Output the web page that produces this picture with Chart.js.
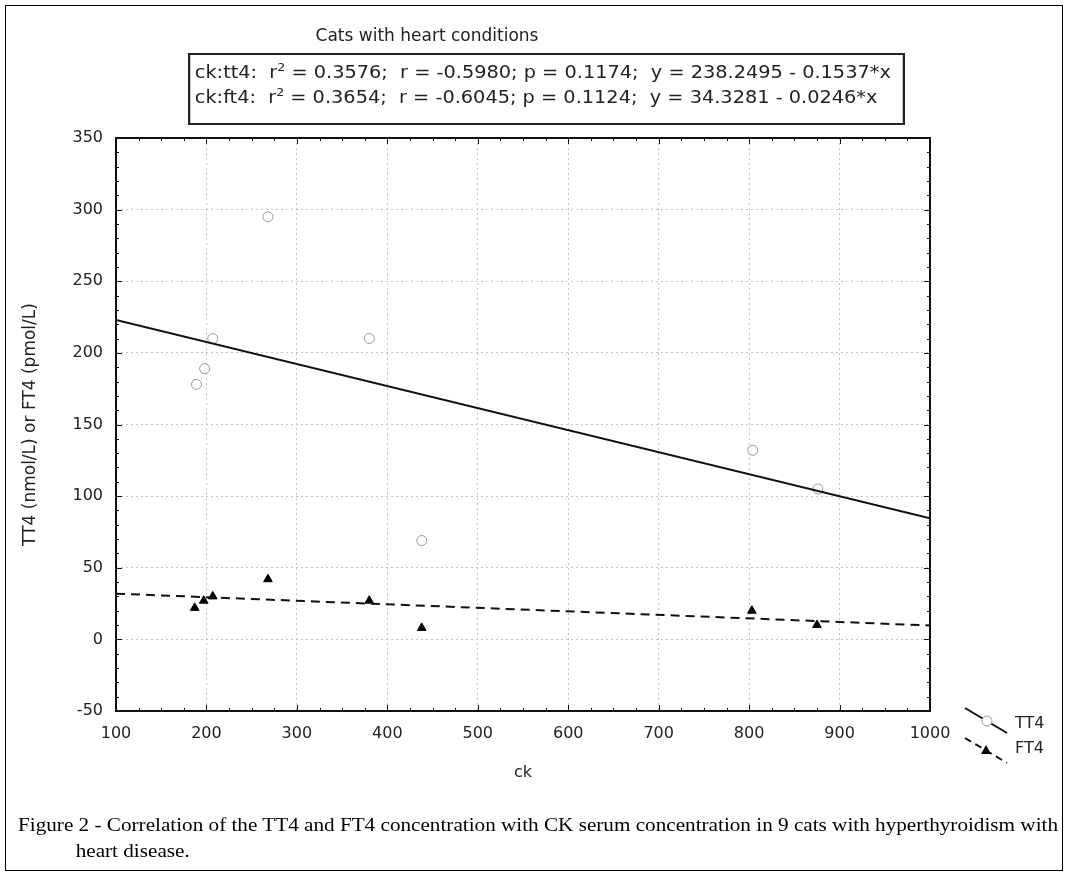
<!DOCTYPE html>
<html>
<head>
<meta charset="utf-8">
<script src="https://cdn.jsdelivr.net/npm/chart.js@4/dist/chart.umd.min.js"></script>
<style>
  html, body { margin: 0; padding: 0; background: #fff; }
  #wrap { position: relative; width: 1069px; height: 877px; overflow: hidden; }
  #frame { position: absolute; left: 5px; top: 5px; width: 1058px; height: 866px; border: 1px solid #000; box-sizing: border-box; }
  canvas { position: absolute; left: 0; top: 0; }
  .sans { font-family: "DejaVu Sans", sans-serif; color: #222; }
  #title { position: absolute; left: 227px; width: 400px; top: 25px; text-align: center; font-size: 17px; }
  #stats { position: absolute; left: 188px; top: 53px; border: 2px solid #222; padding: 5px 10px 13px 4px; font-size: 17px; line-height: 25px; white-space: pre; transform-origin: 0 0; }
  #stats sup { font-size: 11px; line-height: 0; }
  .leg { position: absolute; left: 1015px; font-size: 16px; }
  #caption { position: absolute; left: 18px; top: 812px; font-family: "Liberation Serif", "Times New Roman", serif; font-size: 18px; line-height: 26px; color: #000; white-space: nowrap; transform-origin: 0 0; }
</style>
</head>
<body>
<div id="wrap">
  <canvas id="chart" width="1069" height="877"></canvas>
  <div id="frame"></div>
  <div id="title" class="sans">Cats with heart conditions</div>
  <div id="stats" class="sans">ck:tt4:  r<sup>2</sup> = 0.3576;  r = -0.5980; p = 0.1174;  y = 238.2495 - 0.1537*x
ck:ft4:  r<sup>2</sup> = 0.3654;  r = -0.6045; p = 0.1124;  y = 34.3281 - 0.0246*x</div>
  <div class="leg sans" style="top:713px">TT4</div>
  <div class="leg sans" style="top:738px">FT4</div>
  <div id="caption">Figure 2 - Correlation of the TT4 and FT4 concentration with CK serum concentration in 9 cats with hyperthyroidism with<br><span style="padding-left:49px">heart disease.</span></div>
</div>
<script>
// valores
const ckTT4 = [189, 198, 207, 268, 380, 438, 804, 876];
const tt4   = [178, 189, 210, 295, 210, 69, 132, 105];
const ckFT4 = [187, 197, 207, 268, 380, 438, 803, 875];
const ft4   = [22, 27, 30, 42, 27, 8, 20, 10];

// rectas de regresión (extremos a ck = 100 y ck = 1000)
const fitCk  = [100, 1000];
const tt4Fit = [222.9, 84.6];
const ft4Fit = [31.9, 9.7];

const toPts = (xs, ys) => xs.map((x, i) => ({ x: x, y: ys[i] }));

const CHART_LEFT = 116, CHART_TOP = 138, CHART_RIGHT = 930, CHART_BOTTOM = 711;
const W = 1069, H = 877;

// textos estirados en horizontal como en la imagen original
const cap = document.getElementById('caption');
cap.style.transform = 'scaleX(' + (1040 / cap.offsetWidth) + ')';
const stats = document.getElementById('stats');
stats.style.transform = 'scaleX(' + (717 / stats.offsetWidth) + ')';

// marco completo + marcas hacia dentro + leyenda dibujada a mano
const framePlugin = {
    id: 'framePlugin',
    afterDraw(chart) {
        const ctx = chart.ctx;
        const a = chart.chartArea;
        const xs = chart.scales.x, ys = chart.scales.y;
        ctx.save();
        ctx.strokeStyle = '#111';
        ctx.lineWidth = 1;
        xs.ticks.forEach(t => {
            const px = Math.round(xs.getPixelForValue(t.value)) + 0.5;
            const len = t.value % 100 === 0 ? 6 : 3;
            ctx.beginPath();
            ctx.moveTo(px, a.bottom); ctx.lineTo(px, a.bottom - len);
            ctx.moveTo(px, a.top); ctx.lineTo(px, a.top + len);
            ctx.stroke();
        });
        ys.ticks.forEach(t => {
            const py = Math.round(ys.getPixelForValue(t.value)) + 0.5;
            const len = t.value % 50 === 0 ? 6 : 3;
            ctx.beginPath();
            ctx.moveTo(a.left, py); ctx.lineTo(a.left + len, py);
            ctx.moveTo(a.right, py); ctx.lineTo(a.right - len, py);
            ctx.stroke();
        });
        ctx.lineWidth = 2;
        ctx.strokeRect(a.left, a.top, a.right - a.left, a.bottom - a.top);

        // leyenda
        ctx.lineWidth = 2;
        ctx.strokeStyle = '#111';
        ctx.beginPath(); ctx.moveTo(965, 708); ctx.lineTo(1007, 733); ctx.stroke();
        ctx.setLineDash([7, 5]);
        ctx.beginPath(); ctx.moveTo(965, 738); ctx.lineTo(1007, 763); ctx.stroke();
        ctx.setLineDash([]);
        ctx.fillStyle = '#fff';
        ctx.strokeStyle = '#999';
        ctx.lineWidth = 1;
        ctx.beginPath(); ctx.arc(987, 721, 5, 0, Math.PI * 2); ctx.fill(); ctx.stroke();
        ctx.fillStyle = '#000';
        ctx.beginPath(); ctx.moveTo(986, 745); ctx.lineTo(991, 754); ctx.lineTo(981, 754); ctx.closePath(); ctx.fill();
        ctx.restore();
    }
};

const tickFont = { family: "'DejaVu Sans', sans-serif", size: 16 };

new Chart(document.getElementById('chart'), {
    type: 'scatter',
    data: {
        datasets: [
            {
                label: 'TT4 fit',
                type: 'line',
                data: toPts(fitCk, tt4Fit),
                borderColor: '#111',
                borderWidth: 2,
                pointRadius: 0,
                fill: false
            },
            {
                label: 'FT4 fit',
                type: 'line',
                data: toPts(fitCk, ft4Fit),
                borderColor: '#111',
                borderWidth: 2,
                borderDash: [9, 6],
                pointRadius: 0,
                fill: false
            },
            {
                label: 'TT4',
                data: toPts(ckTT4, tt4),
                pointStyle: 'circle',
                pointRadius: 5,
                pointBackgroundColor: '#fff',
                pointBorderColor: '#999',
                pointBorderWidth: 1
            },
            {
                label: 'FT4',
                data: toPts(ckFT4, ft4),
                pointStyle: 'triangle',
                pointRadius: 5,
                pointBackgroundColor: '#000',
                pointBorderColor: '#000',
                pointBorderWidth: 1
            }
        ]
    },
    options: {
        responsive: false,
        animation: false,
        events: [],
        layout: { padding: { left: 0, top: CHART_TOP, right: W - CHART_RIGHT, bottom: 86 } },
        plugins: { legend: { display: false }, tooltip: { enabled: false } },
        scales: {
            x: {
                type: 'linear',
                min: 100, max: 1000,
                afterFit: s => { s.height = H - 86 - CHART_BOTTOM; },
                ticks: {
                    stepSize: 25,
                    autoSkip: false,
                    maxRotation: 0,
                    padding: 13,
                    color: '#222',
                    font: tickFont,
                    callback: v => (v % 100 === 0 ? v : '')
                },
                grid: {
                    drawTicks: false,
                    color: c => (c.tick && c.tick.value % 100 === 0 ? '#c4c4c4' : 'rgba(0,0,0,0)'),
                    lineWidth: 1
                },
                border: { display: false, dash: [2, 3] },
                title: {
                    display: true,
                    text: 'ck',
                    color: '#222',
                    font: tickFont,
                    padding: { top: 0, bottom: 9 }
                }
            },
            y: {
                type: 'linear',
                min: -50, max: 350,
                afterFit: s => { s.width = CHART_LEFT; },
                ticks: {
                    stepSize: 10,
                    autoSkip: false,
                    padding: 13,
                    color: '#222',
                    font: tickFont,
                    callback: v => (v % 50 === 0 ? v : '')
                },
                grid: {
                    drawTicks: false,
                    color: c => (c.tick && c.tick.value % 50 === 0 ? '#c4c4c4' : 'rgba(0,0,0,0)'),
                    lineWidth: 1
                },
                border: { display: false, dash: [2, 3] },
                title: {
                    display: true,
                    text: 'TT4 (nmol/L) or FT4 (pmol/L)',
                    color: '#222',
                    font: { family: "'DejaVu Sans', sans-serif", size: 17 },
                    padding: { top: 20, bottom: 0 }
                }
            }
        }
    },
    plugins: [framePlugin]
});
</script>
</body>
</html>
